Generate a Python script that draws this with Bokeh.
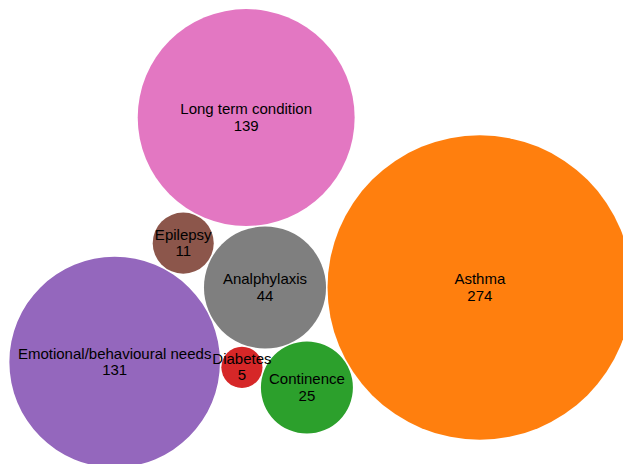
import math
from bokeh.plotting import figure
from bokeh.models import ColumnDataSource, Range1d
from bokeh.embed import file_html
from bokeh.resources import INLINE
from bokeh.core.properties import value

names = ["Analphylaxis", "Asthma", "Continence", "Diabetes",
         "Emotional/behavioural needs", "Epilepsy", "Long term condition"]
counts = [44, 274, 25, 5, 131, 11, 139]
colors = ["#7f7f7f", "#ff7f0e", "#2ca02c", "#d62728",
          "#9467bd", "#8c564b", "#e377c2"]

PX = 9.2    # pixels per sqrt(count)
PAD = 0.75  # padding added to each radius while packing (px)
W, H = 623, 464
ANCHOR = (264.5, 287)  # screen position of the first circle's centre


class Circ:
    def __init__(self, r):
        self.r = r
        self.x = 0.0
        self.y = 0.0
        self.next = self
        self.prev = self


def insert(a, b):
    c = a.next
    a.next = b
    b.prev = a
    b.next = c
    c.prev = b


def splice(a, b):
    a.next = b
    b.prev = a


def intersects(a, b):
    dx = b.x - a.x
    dy = b.y - a.y
    dr = a.r + b.r
    return 0.999 * dr * dr > dx * dx + dy * dy


def place(a, b, c):
    db = a.r + c.r
    dx = b.x - a.x
    dy = b.y - a.y
    if db and (dx or dy):
        da = b.r + c.r
        dc = dx * dx + dy * dy
        da *= da
        db *= db
        x = 0.5 + (db - da) / (2 * dc)
        db2 = db - dc
        y = math.sqrt(max(0.0, 2 * da * (db + dc) - db2 * db2 - da * da)) / (2 * dc)
        c.x = a.x + x * dx + y * dy
        c.y = a.y + x * dy - y * dx
    else:
        c.x = a.x + db
        c.y = a.y


def pack_siblings(nodes):
    n = len(nodes)
    a = nodes[0]
    a.x = -a.r
    a.y = 0.0
    b = nodes[1]
    b.x = b.r
    b.y = 0.0
    c = nodes[2]
    place(a, b, c)
    insert(a, c)
    a.prev = c
    insert(c, b)
    b = a.next
    i = 3
    while i < n:
        c = nodes[i]
        place(a, b, c)
        isect = False
        s1 = 1
        s2 = 1
        j = b.next
        while j is not b:
            if intersects(j, c):
                isect = True
                break
            j = j.next
            s1 += 1
        k = None
        if isect:
            k = a.prev
            while k is not j.prev:
                if intersects(k, c):
                    break
                k = k.prev
                s2 += 1
        if isect:
            if s1 < s2 or (s1 == s2 and b.r < a.r):
                b = j
                splice(a, b)
            else:
                a = k
                splice(a, b)
        else:
            insert(a, c)
            b = c
            i += 1


circs = [Circ(math.sqrt(v) * PX + PAD) for v in counts]
pack_siblings(circs)

xs = [c.x for c in circs]
ys = [c.y for c in circs]
rs = [c.r - PAD for c in circs]

src = ColumnDataSource(dict(x=xs, y=ys, r=rs, name=names,
                            count=[str(v) for v in counts], color=colors))

x0 = xs[0] - ANCHOR[0]
y1 = ys[0] + ANCHOR[1]
p = figure(width=W, height=H, output_backend="svg", toolbar_location=None,
           x_range=Range1d(x0, x0 + W), y_range=Range1d(y1 - H, y1),
           min_border=0)
p.axis.visible = False
p.grid.visible = False
p.outline_line_color = None
p.background_fill_color = "white"
p.border_fill_color = "white"

p.circle(x="x", y="y", radius="r", fill_color="color", line_color=None, source=src)
p.text(x="x", y="y", text="name", source=src, text_font=value("Liberation Sans"),
       text_font_size="15px", text_color="black", text_align="center",
       text_baseline="alphabetic", y_offset=-9)
p.text(x="x", y="y", text="count", source=src, text_font=value("Liberation Sans"),
       text_font_size="15px", text_color="black", text_align="center",
       text_baseline="alphabetic", y_offset=8)

open("out.html", "w").write(file_html(p, INLINE))
